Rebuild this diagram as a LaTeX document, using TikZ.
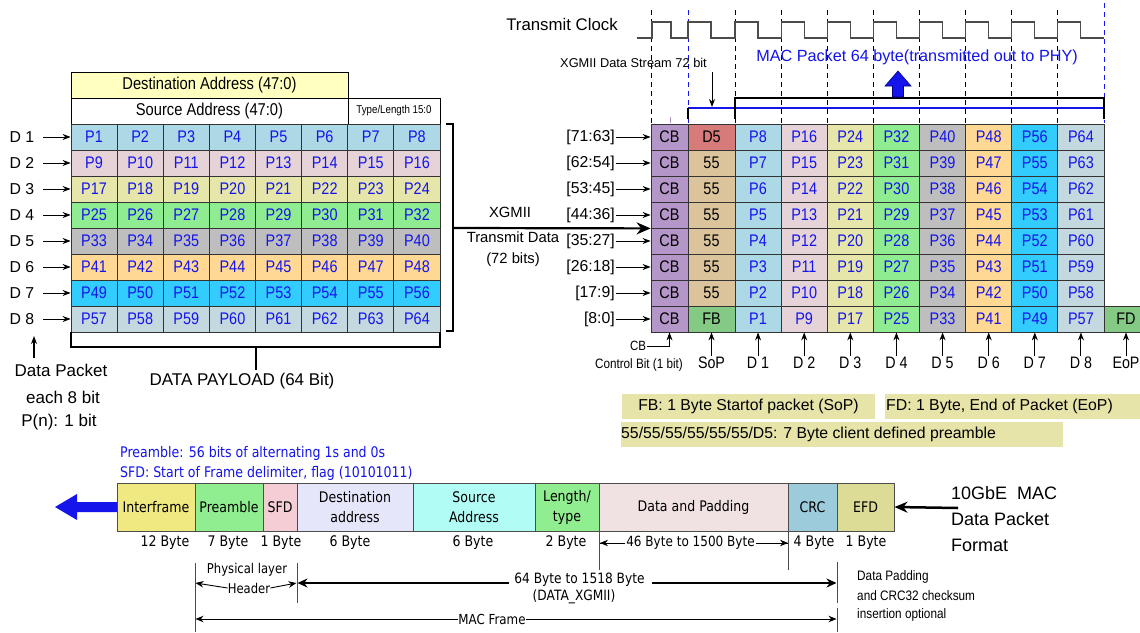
\documentclass[tikz,border=0pt]{standalone}
\usepackage{fontspec}
\setmainfont{Liberation Sans}
\newfontfamily\nf{Liberation Sans}[FakeStretch=0.86]
\newfontfamily\tf{DejaVu Sans}[FakeStretch=0.86]
\usetikzlibrary{arrows.meta}
\newcommand\fsz[1]{\fontsize{#1}{#1}\selectfont}
\newcommand\fszb[2]{\fontsize{#1}{#2}\selectfont}
\definecolor{cD1}{RGB}{173,216,230}
\definecolor{cD2}{RGB}{230,211,216}
\definecolor{cD3}{RGB}{230,230,170}
\definecolor{cD4}{RGB}{144,236,144}
\definecolor{cD5}{RGB}{190,190,190}
\definecolor{cD6}{RGB}{255,216,148}
\definecolor{cD7}{RGB}{51,204,255}
\definecolor{cD8}{RGB}{196,216,224}
\definecolor{cCB}{RGB}{180,150,200}
\definecolor{cRed}{RGB}{214,122,122}
\definecolor{cTan}{RGB}{219,196,156}
\definecolor{cFB}{RGB}{132,202,132}
\definecolor{pblue}{RGB}{20,20,235}
\definecolor{cDA}{RGB}{255,255,192}
\definecolor{cLeg}{RGB}{230,228,168}
\definecolor{fIF}{RGB}{240,232,128}
\definecolor{fPre}{RGB}{144,238,144}
\definecolor{fSFD}{RGB}{245,205,212}
\definecolor{fDst}{RGB}{230,230,250}
\definecolor{fSrc}{RGB}{178,252,246}
\definecolor{fData}{RGB}{240,226,226}
\definecolor{fCRC}{RGB}{156,204,220}
\definecolor{fEFD}{RGB}{220,220,150}
\tikzset{
  lcell/.style={draw=black!80, line width=0.8pt, minimum width=46.125pt, minimum height=26pt, inner sep=0pt, font=\nf\fsz{16.8}, text=pblue},
  gcell/.style={draw=black!80, line width=0.8pt, minimum height=26pt, inner sep=0pt, font=\nf\fsz{16.8}},
  lab/.style={inner sep=1pt, font=\nf\fsz{16.6}},
  arr/.style={-{Stealth[length=8pt,width=6pt]}, line width=1pt},
  tarr/.style={-{Stealth[length=8pt,width=6.5pt]}, line width=0.9pt},
  bigarr/.style={-{Stealth[length=14pt,width=12pt]}, line width=2.2pt},
  thkarr/.style={-{Stealth[length=10pt,width=9pt]}, line width=2pt},
  fcell/.style={draw=black!70, line width=1pt, minimum height=48pt, inner sep=0pt, align=center, font=\tf\fszb{14.6}{20}},
  clkdash/.style={dash pattern=on 5pt off 4pt, line width=0.9pt},
  brkline/.style={line width=2pt},
  tahoma/.style={inner sep=0pt, font=\tf\fsz{14.6}}
}
\begin{document}
\begin{tikzpicture}[x=1pt,y=-1pt]
\useasboundingbox (0,0) rectangle (1140,632);
\fill[white] (0,0) rectangle (1140,632);

% ---------- clock ----------
\node[font=\fsz{16.8}] (tclk) at (562,24) {Transmit Clock};
\foreach \x in {651.5,735,781.1,827.25,873.4,919.5,965.6,1011.75,1057.9}
  \draw[clkdash] (\x,10) -- (\x,123);
\draw[clkdash, pblue] (688,10) -- (688,123);
\draw[clkdash, pblue] (1104,3) -- (1104,123);
\draw[black!70, line width=1.1pt] (637,38) -- (652,38) -- (652,22) -- (671,22) -- (671,38) -- (688,38) -- (688,22) -- (711,22) -- (711,38) -- (735,38)
  \foreach \k in {0,...,7} { -- ({735+46.125*\k},22) -- ({758+46.125*\k},22) -- ({758+46.125*\k},38) -- ({781.125+46.125*\k},38) };

\node[font=\fsz{12.8}] (xds) at (633.5,63) {XGMII Data Stream 72 bit};
\coordinate (dsA) at (712,72);
\coordinate (dsB) at (712,107);
\node[font=\fsz{16.2}, text=pblue] (macp) at (917,57) {MAC Packet 64 byte(transmitted out to PHY)};
\draw[pblue, line width=2.6pt] (688,108) -- (1104,108);
\draw[line width=1.6pt] (688,108) -- (688,119);
\draw[line width=2.2pt] (735,119) -- (735,98) -- (1104,98) -- (1104,119);
\draw[arr] (dsA) -- (dsB);
\filldraw[fill=pblue, draw=blue!50!black, line width=0.6pt] (892.5,97) -- (892.5,86) -- (885,86) -- (898,71) -- (911,86) -- (903.5,86) -- (903.5,97) -- cycle;

% ---------- left table ----------
\node[draw, line width=0.8pt, fill=cDA, minimum width=277pt, minimum height=26pt, inner sep=0pt, font=\nf\fsz{17.1}] (dst) at (209.5,85) {Destination Address (47:0)};
\node[draw, line width=0.8pt, fill=white, minimum width=277pt, minimum height=26pt, inner sep=0pt, font=\nf\fsz{17.1}] (src) at (209.5,111) {Source Address (47:0)};
\node[draw, line width=0.8pt, fill=white, minimum width=92pt, minimum height=26pt, inner sep=0pt, font=\nf\fsz{11.3}] (tl) at (394,111) {Type/Length 15:0};
\foreach \r in {1,...,8}{
  \pgfmathsetmacro\yy{124+26*(\r-0.5)}
  \foreach \c in {1,...,8}{
    \pgfmathtruncatemacro\n{(\r-1)*8+\c}
    \node[lcell, fill=cD\r] (L\n) at ({71+46.125*(\c-0.5)},\yy) {P\n};
  }
  \pgfmathtruncatemacro\f{(\r-1)*8+1}
  \node[inner sep=2pt, font=\fsz{15.8}] (DL\r) at (22,\yy) {D \r};
  \draw[arr, shorten <=7pt] (DL\r.east) -- (L\f.west);
}
\draw[brkline] (71,332) -- (71,347) -- (440,347) -- (440,332);
\draw[brkline] (256,347) -- (256,370);
\node[font=\fsz{17}] (payload) at (242,381) {DATA PAYLOAD (64 Bit)};
\coordinate (dpA) at (34,358);
\coordinate (dpB) at (34,336);
\draw[arr, line width=1.3pt] (dpA) -- (dpB);
\node[font=\fsz{17}] (dpk1) at (61,370) {Data Packet};
\node[font=\fsz{17}] (dpk2) at (63,397) {each 8 bit};
\node[font=\fsz{17}] (dpk3) at (59,422) {P(n): 1 bit};

% right bracket and XGMII arrow
\draw[brkline] (446,124) -- (453,124) -- (453,331) -- (446,331);
\coordinate (brkpt) at (453,228);
\node[font=\fsz{14.8}] (xg1) at (510,212) {XGMII};
\node[font=\fsz{14.8}] (xg2) at (513,237) {Transmit Data};
\node[font=\fsz{14.8}] (xg3) at (513,260) {(72 bits)};

% ---------- right grid ----------
\foreach \r/\lab in {1/{[71:63]},2/{[62:54]},3/{[53:45]},4/{[44:36]},5/{[35:27]},6/{[26:18]},7/{[17:9]},8/{[8:0]}}{
  \pgfmathsetmacro\yy{124+26*(\r-0.5)}
  \node[gcell, fill=cCB, minimum width=37pt] (CB\r) at (669.5,\yy) {CB};
  \node[inner sep=1pt, anchor=east, font=\fsz{15.8}] (RL\r) at (616,\yy) {\lab};
  \draw[arr] (RL\r.east) -- (CB\r.west);
  \foreach \k in {1,...,8}{
    \pgfmathtruncatemacro\n{8*(\k-1)+9-\r}
    \node[gcell, fill=cD\k, minimum width=46.125pt, text=pblue] (R\r\k) at ({735+46.125*(\k-0.5)},\yy) {P\n};
  }
}
\node[gcell, fill=cRed, minimum width=47pt] (S1) at (711.5,137) {D5};
\foreach \r in {2,...,7}
  \node[gcell, fill=cTan, minimum width=47pt] (S\r) at (711.5,{124+26*(\r-0.5)}) {55};
\node[gcell, fill=cFB, minimum width=47pt] (S8) at (711.5,319) {FB};
\node[gcell, fill=cFB, minimum width=44pt] (FD) at (1126,319) {FD};
\draw[cCB, line width=1pt] (670,117) -- (670,123);
\draw[bigarr] (brkpt) -- (CB4.south west);

\node[inner sep=1pt, font=\nf\fsz{13.4}] (CBl) at (638,346) {CB};
\draw[arr] (CBl.east) -| (CB8.south);
\node[font=\nf\fsz{13.6}] (ctrl) at (639,365) {Control Bit (1 bit)};
\node[lab] (BSoP) at (711.5,363) {SoP};
\draw[arr] (BSoP.north) -- (S8.south);
\foreach \k in {1,...,8}{
  \node[lab] (BD\k) at ({735+46.125*(\k-0.5)},363) {D \k};
  \draw[arr] (BD\k.north) -- (R8\k.south);
}
\node[lab] (BEoP) at (1126,363) {EoP};
\draw[arr] (BEoP.north) -- (FD.south);

% ---------- legends ----------
\node[fill=cLeg, minimum width=253pt, minimum height=25pt, inner sep=0pt, font=\fsz{15.8}] (lgFB) at (748.5,406.5) {FB: 1 Byte Startof packet (SoP)};
\fill[cLeg] (885,394) rectangle (1140,419);
\node[anchor=west, inner sep=0pt, font=\fsz{15.8}] (lgFD) at (886,406.5) {FD: 1 Byte, End of Packet (EoP)};
\fill[cLeg] (621,422) rectangle (1063,447);
\node[anchor=west, inner sep=0pt, font=\fsz{15.8}] (lg55) at (621,434.5) {55/55/55/55/55/55/D5: 7 Byte client defined preamble};

% ---------- MAC frame ----------
\node[tahoma, anchor=west, text=pblue] (pre) at (120,453) {Preamble: 56 bits of alternating 1s and 0s};
\node[tahoma, anchor=west, text=pblue] (sfdt) at (120,473) {SFD: Start of Frame delimiter, flag (10101011)};

\node[fcell, fill=fIF, minimum width=78pt] (IF) at (156,507) {Interframe};
\node[fcell, fill=fPre, minimum width=68pt] (PRE) at (229,507) {Preamble};
\node[fcell, fill=fSFD, minimum width=34pt] (SFD) at (280,507) {SFD};
\node[fcell, fill=fDst, minimum width=116pt] (DST) at (355,507) {Destination\\address};
\node[fcell, fill=fSrc, minimum width=122pt] (SRC) at (474,507) {Source\\Address};
\node[fcell, fill=fPre, minimum width=64pt] (LEN) at (567,507) {Length/\\type};
\node[fcell, fill=fData, minimum width=189pt] (DAT) at (693.5,507) {Data and Padding};
\node[fcell, fill=fCRC, minimum width=49pt] (CRC) at (812.5,507) {CRC};
\node[fcell, fill=fEFD, minimum width=57pt] (EFD) at (865.5,507) {EFD};

\fill[pblue] (117,502) -- (77,502) -- (77,494) -- (55,507) -- (77,520) -- (77,512) -- (117,512) -- cycle;

\node[tahoma] (b1) at (165,543) {12 Byte};
\node[tahoma] (b2) at (228,543) {7 Byte};
\node[tahoma] (b3) at (281,543) {1 Byte};
\node[tahoma] (b4) at (350,543) {6 Byte};
\node[tahoma] (b5) at (473,543) {6 Byte};
\node[tahoma] (b6) at (566,543) {2 Byte};
\node[tahoma] (b8) at (814,543) {4 Byte};
\node[tahoma] (b9) at (866,543) {1 Byte};

\coordinate (dpL) at (600,543);
\coordinate (dpR) at (788,543);
\draw[tarr] (dpL) -- (dpR);
\draw[tarr] (dpR) -- (dpL);
\node[tahoma, fill=white, inner xsep=1pt, inner ysep=2pt, font=\tf\fsz{14}] (b7) at (690.5,543) {46 Byte to 1500 Byte};

% ticks
\draw[black!70, line width=0.9pt] (599,531) -- (599,570);
\draw[black!70, line width=0.9pt] (788,531) -- (788,570);
\draw[black!70, line width=0.9pt] (837,562) -- (837,603);
\draw[black!70, line width=0.9pt] (837,608) -- (837,632);
\draw[black!70, line width=0.9pt] (195,563) -- (195,632);
\draw[black!70, line width=0.9pt] (297,563) -- (297,603);

\node[tahoma, font=\tf\fsz{13.5}] (phy1) at (247,570) {Physical layer};
\node[tahoma, font=\tf\fsz{13.5}] (phy2) at (249,588) {Header};
\draw[tarr] (phy2.west) -- (195.5,583);
\draw[tarr] (phy2.east) -- (296.5,583);
\coordinate (xA) at (509,583);
\coordinate (xB) at (652,583);
\draw[thkarr] (xA) -- (297.5,583);
\draw[thkarr] (xB) -- (836.5,583);
\node[tahoma, font=\tf\fsz{14.2}] (x1) at (579.5,580) {64 Byte to 1518 Byte};
\node[tahoma, font=\tf\fsz{14.2}] (x2) at (574,597) {(DATA\_XGMII)};
\node[tahoma, font=\tf\fsz{13.8}] (macf) at (492,619) {MAC Frame};
\draw[tarr] (macf.west) -- (195.5,619);
\draw[tarr] (macf.east) -- (836.5,619);

\node[anchor=west, inner sep=0pt, font=\nf\fsz{13.7}] (np1) at (857,577) {Data Padding};
\node[anchor=west, inner sep=0pt, font=\nf\fsz{13.7}] (np2) at (857,596) {and CRC32 checksum};
\node[anchor=west, inner sep=0pt, font=\nf\fsz{13.7}] (np3) at (857,615) {insertion optional};

\node[anchor=west, inner sep=0pt, font=\fsz{18}] (ge1) at (951,493) {10GbE\ \ MAC};
\node[anchor=west, inner sep=0pt, font=\fsz{18}] (ge2) at (951,519) {Data Packet};
\node[anchor=west, inner sep=0pt, font=\fsz{18}] (ge3) at (951,545) {Format};
\coordinate (geA) at (958,508);
\draw[-{Stealth[length=13pt,width=11pt]}, line width=2.5pt] (geA) -- (EFD.east);
\end{tikzpicture}
\end{document}
